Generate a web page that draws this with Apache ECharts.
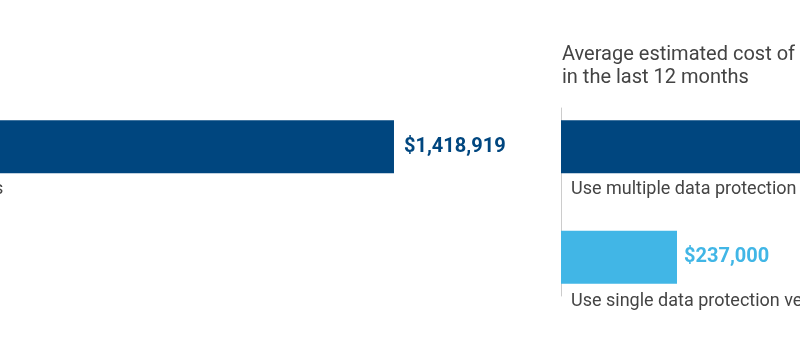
<!DOCTYPE html>
<html>
<head>
<meta charset="utf-8">
<script src="https://cdn.jsdelivr.net/npm/echarts@6/dist/echarts.min.js"></script>
<style>
  html, body { margin: 0; padding: 0; background: #ffffff; }
  #chart { width: 800px; height: 357px; }
</style>
</head>
<body>
<div id="chart"></div>
<script>
const titleText = 'Average estimated cost of data loss\nin the last 12 months';
const categories = ['Use multiple data protection vendors', 'Use single data protection vendor'];
const multipleValues = [1418919, '-'];
const singleValues = ['-', 237000];

const DARK = '#00467f';
const LIGHT = '#41b6e6';
const TEXT = '#444444';
const FONT = 'Roboto';

const chart = echarts.init(document.getElementById('chart'), null, { renderer: 'canvas' });

const axisMax = 237000 * 1000 / 116;
const panelLefts = [561, -300.5];

const money = v => '$' + Number(v).toLocaleString('en-US');

const grids = [], xAxes = [], yAxes = [], series = [];
panelLefts.forEach((left, gi) => {
  grids.push({ left: left, top: 108, width: 1000, height: 188, containLabel: false, outerBoundsMode: 'none' });
  xAxes.push({ type: 'value', gridIndex: gi, min: 0, max: axisMax, show: false, splitLine: { show: false } });
  yAxes.push({
    type: 'category', gridIndex: gi, data: categories, inverse: true,
    axisLine: { show: true, lineStyle: { color: '#cccccc', width: 1 } },
    axisTick: { show: false },
    splitLine: { show: false },
    axisLabel: {
      inside: true, margin: 10, verticalAlign: 'top',
      formatter: (v, i) => (i === 0 ? '{a|' : '{b|') + v + '}',
      rich: {
        a: { fontFamily: FONT, fontSize: 18, color: TEXT, lineHeight: 18, padding: [50, 0, 0, 0] },
        b: { fontFamily: FONT, fontSize: 18, color: TEXT, lineHeight: 18, padding: [87, 0, 0, 0] }
      }
    }
  });
  series.push({
    type: 'bar', name: 'multiple', xAxisIndex: gi, yAxisIndex: gi,
    data: multipleValues, barWidth: 53, barGap: '-68.9%',
    itemStyle: { color: DARK },
    label: { show: true, position: 'right', distance: 10, formatter: p => money(p.value),
      fontFamily: FONT, fontSize: 20, fontWeight: 'bold', color: DARK },
    animation: false
  });
  series.push({
    type: 'bar', name: 'single', xAxisIndex: gi, yAxisIndex: gi,
    data: singleValues, barWidth: 53, barGap: '-68.9%',
    itemStyle: { color: LIGHT },
    label: { show: true, position: 'right', distance: 7, formatter: p => money(p.value),
      fontFamily: FONT, fontSize: 20, fontWeight: 'bold', color: LIGHT },
    animation: false
  });
});

chart.setOption({
  animation: false,
  backgroundColor: '#ffffff',
  title: {
    text: titleText, left: panelLefts[0] - 4, top: 38,
    textStyle: { fontFamily: FONT, fontSize: 20, fontWeight: 'normal', color: TEXT, lineHeight: 23 }
  },
  grid: grids,
  xAxis: xAxes,
  yAxis: yAxes,
  series: series
});
</script>
</body>
</html>
